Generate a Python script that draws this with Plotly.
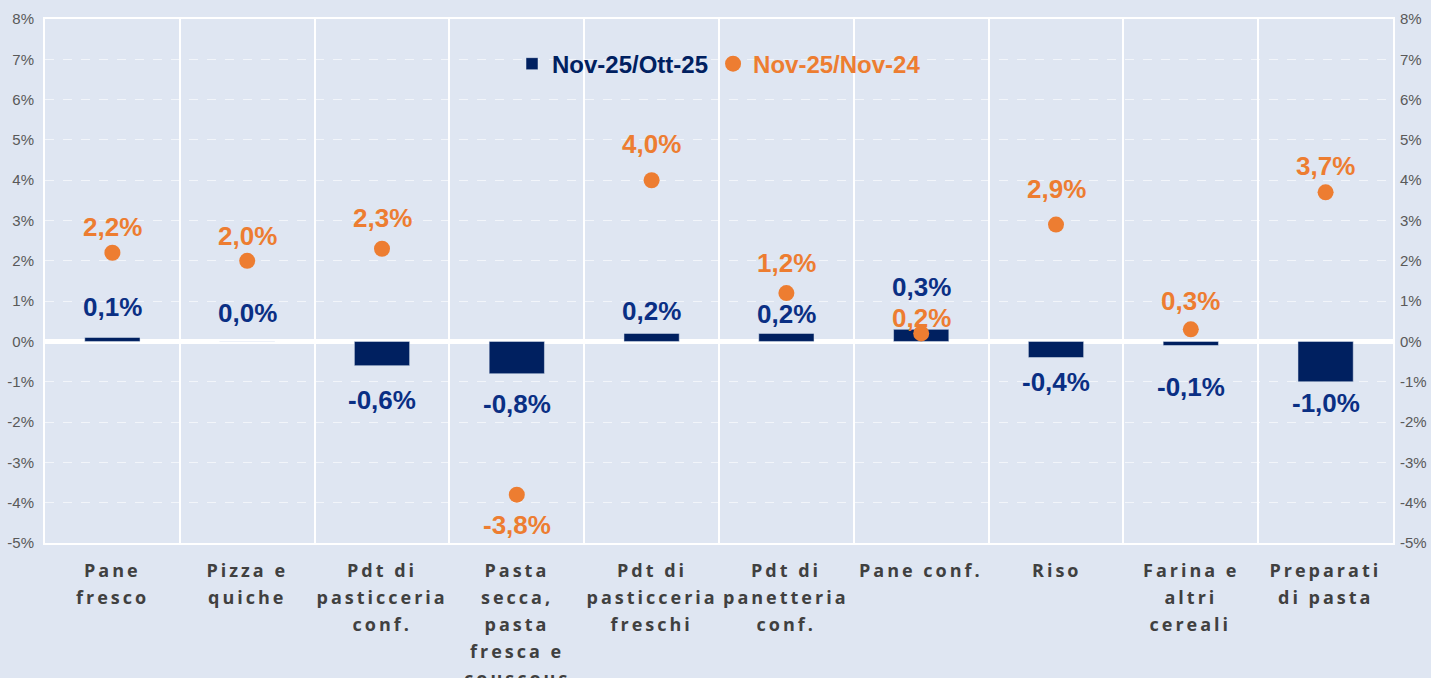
import plotly.graph_objects as go

categories = [
    "Pane<br>fresco",
    "Pizza e<br>quiche",
    "Pdt di<br>pasticceria<br>conf.",
    "Pasta<br>secca,<br>pasta<br>fresca e<br>couscous",
    "Pdt di<br>pasticceria<br>freschi",
    "Pdt di<br>panetteria<br>conf.",
    "Pane conf.",
    "Riso",
    "Farina e<br>altri<br>cereali",
    "Preparati<br>di pasta",
]
mom = [0.1, 0.0, -0.6, -0.8, 0.2, 0.2, 0.3, -0.4, -0.1, -1.0]   # Nov-25/Ott-25
yoy = [2.2, 2.0, 2.3, -3.8, 4.0, 1.2, 0.2, 2.9, 0.3, 3.7]       # Nov-25/Nov-24
tick_vals = [8, 7, 6, 5, 4, 3, 2, 1, 0, -1, -2, -3, -4, -5]
tick_text = ["8%", "7%", "6%", "5%", "4%", "3%", "2%", "1%", "0%",
             "-1%", "-2%", "-3%", "-4%", "-5%"]

# label pixel offsets (style)
mom_shift = [30, 28, -34, -30, 22, 19, 42, -24, -42, -21]
yoy_shift = [26, 25, 31, -30, 36, 30, 15, 36, 28, 26]

NAVY = "#002060"
NAVY_TXT = "#0A2F84"
ORANGE = "#ED7D31"
BG = "#DFE6F2"
CAT_COLOR = "#404040"

def fmt(v):
    return f"{v:.1f}".replace(".", ",") + "%"

fig = go.Figure()
fig.add_trace(go.Bar(
    x=categories, y=mom, width=0.41, marker_color=NAVY,
    name=f"<b><span style='color:{NAVY}'>Nov-25/Ott-25</span></b>",
))
fig.add_trace(go.Scatter(
    x=categories, y=yoy, mode="markers", yaxis="y2",
    marker=dict(color=ORANGE, size=16, symbol="circle"),
    name=f"<b><span style='color:{ORANGE}'>Nov-25/Nov-24</span></b>",
))

for c, v, s in zip(categories, mom, mom_shift):
    fig.add_annotation(x=c, y=v, yshift=s, text=f"<b>{fmt(v)}</b>", showarrow=False,
                       font=dict(family="Arial", size=26, color=NAVY_TXT),
                       xanchor="center", yanchor="middle")
for c, v, s in zip(categories, yoy, yoy_shift):
    fig.add_annotation(x=c, y=v, yshift=s, yref="y2", text=f"<b>{fmt(v)}</b>", showarrow=False,
                       font=dict(family="Arial", size=26, color=ORANGE),
                       xanchor="center", yanchor="middle")

# category labels, one annotation per line for Excel-like line spacing
LINE_H = 27
for c in categories:
    for j, line in enumerate(c.split("<br>")):
        fig.add_annotation(x=c, y=0, yref="paper", yshift=-LINE_H * (j + 1),
                           text=f"<b>{line}</b>", showarrow=False,
                           font=dict(family="Open Sans", size=18, color=CAT_COLOR),
                           xanchor="center", yanchor="middle")

axis_common = dict(range=[-5, 8], tickvals=tick_vals, ticktext=tick_text,
                   tickfont=dict(family="Arial", size=15, color="#595959"),
                   automargin=False, ticks="", ticklabelstandoff=6)

fig.update_layout(
    width=1431, height=678,
    paper_bgcolor=BG, plot_bgcolor=BG,
    margin=dict(l=45, r=38, t=19, b=135),
    showlegend=True,
    legend=dict(orientation="h", x=0.5, xanchor="center", y=0.914, yanchor="middle",
                bgcolor="rgba(0,0,0,0)", font=dict(family="Arial", size=24),
                itemwidth=30, tracegroupgap=0),
    xaxis=dict(
        range=[-0.5, len(categories) - 0.5],
        tickson="boundaries", showgrid=True, gridcolor="white", gridwidth=2,
        showline=True, linecolor="white", linewidth=2, mirror=True,
        ticks="", showticklabels=False, automargin=False,
    ),
    yaxis=dict(
        **axis_common, showgrid=True, gridcolor="rgba(255,255,255,0.6)", griddash="dash",
        gridwidth=1, zeroline=True, zerolinecolor="white", zerolinewidth=5,
        showline=True, linecolor="white", linewidth=2, mirror=True,
    ),
    yaxis2=dict(
        **axis_common, overlaying="y", side="right", showgrid=False, zeroline=False,
        showline=False,
    ),
)

post = """
document.body.style.margin='0';
function ls(){document.querySelectorAll('.annotation-text').forEach(function(t){
  if((t.style.fill||'').indexOf('64, 64, 64')>=0){t.style.letterSpacing='3px';}
});}
ls(); var gd=document.getElementsByClassName('plotly-graph-div')[0]; if(gd&&gd.on){gd.on('plotly_afterplot',ls);}
"""
fig.write_html("out.html", post_script=post, config={"displayModeBar": False})
